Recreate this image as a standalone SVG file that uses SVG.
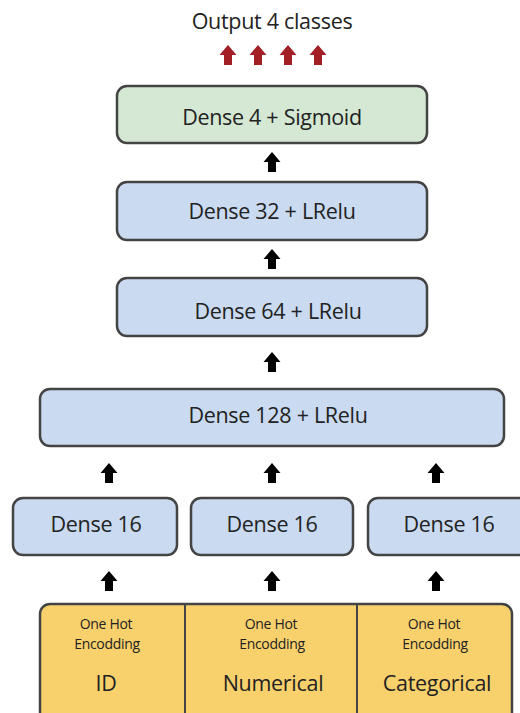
<svg xmlns="http://www.w3.org/2000/svg" xmlns:xlink="http://www.w3.org/1999/xlink" width="520" height="713" viewBox="0 0 520 713">
  <style>
    .box { stroke: #444; stroke-width: 2.5; }
    .green { fill: #d5e8d4; }
    .blue { fill: #c9daf1; }
    .yellow { fill: #f8d16d; }
    .lbl { font-family: "Open Sans", "Liberation Sans", sans-serif; fill: #222; text-anchor: middle; }
    .big { font-size: 21.5px; letter-spacing: -0.3px; }
    .small { font-size: 14px; letter-spacing: -0.3px; }
    .div { stroke: #444; stroke-width: 2; }
  </style>
  <defs>
    <!-- block arrow pointing up, tip at origin -->
    <path id="up" d="M0,0 L8.5,10 L4,10 L4,20 L-4,20 L-4,10 L-8.5,10 Z"/>
  </defs>
  <rect width="520" height="713" fill="#fff"/>

  <g id="output">
    <text class="lbl big" x="272" y="29">Output 4 classes</text>
    <g fill="#a31f26">
      <use xlink:href="#up" x="228" y="45"/>
      <use xlink:href="#up" x="258" y="45"/>
      <use xlink:href="#up" x="288" y="45"/>
      <use xlink:href="#up" x="318" y="45"/>
    </g>
  </g>

  <g id="connectors" fill="#000">
    <use xlink:href="#up" x="272" y="152"/>
    <use xlink:href="#up" x="272" y="249"/>
    <use xlink:href="#up" x="272" y="352"/>
    <use xlink:href="#up" x="109" y="463"/>
    <use xlink:href="#up" x="272" y="463"/>
    <use xlink:href="#up" x="436" y="463"/>
    <use xlink:href="#up" x="109" y="571"/>
    <use xlink:href="#up" x="272" y="571"/>
    <use xlink:href="#up" x="436" y="571"/>
  </g>

  <g id="dense4">
    <rect class="box green" x="117" y="86" width="310" height="57" rx="10"/>
    <text class="lbl big" x="272" y="125">Dense 4 + Sigmoid</text>
  </g>
  <g id="dense32">
    <rect class="box blue" x="117" y="182" width="310" height="58" rx="10"/>
    <text class="lbl big" x="272" y="219">Dense 32 + LRelu</text>
  </g>
  <g id="dense64">
    <rect class="box blue" x="117" y="278" width="310" height="58" rx="10"/>
    <text class="lbl big" x="278" y="319">Dense 64 + LRelu</text>
  </g>
  <g id="dense128">
    <rect class="box blue" x="40" y="389" width="464" height="57" rx="10"/>
    <text class="lbl big" x="278" y="423">Dense 128 + LRelu</text>
  </g>
  <g id="dense16-id">
    <rect class="box blue" x="13" y="498" width="164" height="57" rx="10"/>
    <text class="lbl big" x="96" y="532">Dense 16</text>
  </g>
  <g id="dense16-num">
    <rect class="box blue" x="191" y="498" width="162" height="57" rx="10"/>
    <text class="lbl big" x="272" y="532">Dense 16</text>
  </g>
  <g id="dense16-cat">
    <rect class="box blue" x="368" y="498" width="162" height="57" rx="10"/>
    <text class="lbl big" x="449" y="532">Dense 16</text>
  </g>

  <g id="inputs">
    <rect class="box yellow" x="40" y="604" width="472" height="130" rx="10"/>
    <line class="div" x1="185" y1="604" x2="185" y2="713"/>
    <line class="div" x1="357" y1="604" x2="357" y2="713"/>
    <g id="input-id">
      <text class="lbl small" x="106" y="629">One Hot</text>
      <text class="lbl small" x="107" y="649">Encodding</text>
      <text class="lbl big" x="106" y="691">ID</text>
    </g>
    <g id="input-num">
      <text class="lbl small" x="271" y="629">One Hot</text>
      <text class="lbl small" x="272" y="649">Encodding</text>
      <text class="lbl big" x="273" y="691">Numerical</text>
    </g>
    <g id="input-cat">
      <text class="lbl small" x="434" y="629">One Hot</text>
      <text class="lbl small" x="435" y="649">Encodding</text>
      <text class="lbl big" x="437" y="691">Categorical</text>
    </g>
  </g>
</svg>
